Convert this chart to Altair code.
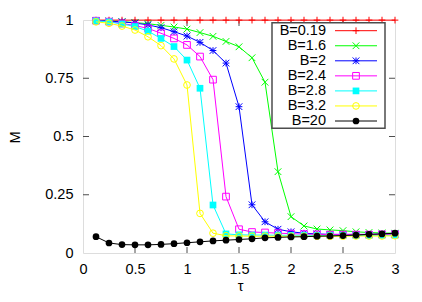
import altair as alt
import pandas as pd

tau = [0.125, 0.25, 0.375, 0.5, 0.625, 0.75, 0.875, 1.0, 1.125, 1.25, 1.375, 1.5,
       1.625, 1.75, 1.875, 2.0, 2.125, 2.25, 2.375, 2.5, 2.625, 2.75, 2.875, 3.0]

m_b019 = [0.9995, 0.9995, 0.9995, 0.9995, 0.9995, 0.9995, 0.9995, 0.9995, 0.9995, 0.9995, 0.9995, 0.9995,
          0.9995, 0.9995, 0.9995, 0.9995, 0.9995, 0.9995, 0.9995, 0.9995, 0.9995, 0.9995, 0.9995, 0.9995]
m_b16 = [0.998, 0.996, 0.993, 0.989, 0.984, 0.977, 0.970, 0.961, 0.946, 0.930, 0.908, 0.885,
         0.838, 0.733, 0.349, 0.156, 0.116, 0.103, 0.099, 0.096, 0.091, 0.088, 0.086, 0.085]
m_b2 = [0.998, 0.995, 0.992, 0.987, 0.979, 0.967, 0.950, 0.931, 0.904, 0.869, 0.815, 0.628,
        0.207, 0.134, 0.102, 0.091, 0.085, 0.082, 0.080, 0.080, 0.080, 0.080, 0.081, 0.082]
m_b24 = [0.997, 0.993, 0.985, 0.976, 0.964, 0.943, 0.921, 0.893, 0.843, 0.744, 0.242, 0.102,
         0.090, 0.088, 0.085, 0.083, 0.081, 0.080, 0.079, 0.079, 0.079, 0.079, 0.080, 0.080]
m_b28 = [0.996, 0.992, 0.983, 0.972, 0.952, 0.921, 0.886, 0.828, 0.707, 0.206, 0.082, 0.078,
         0.077, 0.077, 0.076, 0.076, 0.076, 0.075, 0.075, 0.075, 0.075, 0.075, 0.076, 0.076]
m_b32 = [0.992, 0.986, 0.974, 0.957, 0.928, 0.890, 0.833, 0.721, 0.170, 0.085, 0.074, 0.073,
         0.072, 0.072, 0.072, 0.072, 0.072, 0.072, 0.072, 0.072, 0.073, 0.073, 0.073, 0.074]
m_b20 = [0.070, 0.043, 0.036, 0.035, 0.035, 0.037, 0.040, 0.044, 0.048, 0.052, 0.055, 0.058,
         0.061, 0.065, 0.067, 0.069, 0.070, 0.072, 0.073, 0.075, 0.077, 0.080, 0.082, 0.085]

labels = ["B=0.19", "B=1.6", "B=2", "B=2.4", "B=2.8", "B=3.2", "B=20"]
series = [m_b019, m_b16, m_b2, m_b24, m_b28, m_b32, m_b20]
colors = ["#ff0000", "#00ff00", "#0000ff", "#ff00ff", "#00ffff", "#ffff00", "#000000"]

x_ticks = [0, 0.5, 1, 1.5, 2, 2.5, 3]
y_ticks = [0, 0.25, 0.5, 0.75, 1]

PLUS = "M-1,0L1,0M0,-1L0,1"
CROSS = "M-1,-1L1,1M-1,1L1,-1"
STAR = "M-1,0L1,0M0,-1L0,1M-1,-1L1,1M-1,1L1,-1"
shapes = [(PLUS, False), (CROSS, False), (STAR, False), ("square", False),
          ("square", True), ("circle", False), ("circle", True)]

W, H = 312, 233
FONT = "Liberation Sans"
FS = 14.5
FRAME = "#4d4d4d"

xs = alt.Scale(domain=[0, 3], nice=False)
ys = alt.Scale(domain=[0, 1], nice=False)

x_axis = alt.Axis(values=x_ticks, labelExpr="'' + datum.value", tickSize=0, domain=False,
                  grid=False, labelPadding=9.5, labelFlush=False, labelFont=FONT, labelFontSize=FS,
                  labelColor="#000", title="τ", titleFont=FONT, titleFontSize=FS,
                  titleFontWeight="normal", titleColor="#000", titleX=157, titleY=37,
                  titleBaseline="alphabetic", titleAlign="center")
y_axis = alt.Axis(values=y_ticks, labelExpr="'' + datum.value", tickSize=0, domain=False,
                  grid=False, labelPadding=10, labelFlush=False, labelFont=FONT, labelFontSize=FS,
                  labelColor="#000", title="M", titleFont=FONT, titleFontSize=FS,
                  titleFontWeight="normal", titleColor="#000", titleX=-68, titleY=117,
                  titleAngle=-90, titleBaseline="middle", titleAlign="center")

layers = []

# tick marks (inward, mirrored)
xt = pd.DataFrame({"tau": x_ticks[1:-1]})
yt = pd.DataFrame({"M": y_ticks[1:-1]})
layers.append(alt.Chart(xt).mark_rule(color=FRAME, strokeWidth=1).encode(
    x=alt.X("tau:Q", scale=xs, axis=x_axis), y=alt.value(H), y2=alt.value(H - 6)))
layers.append(alt.Chart(xt).mark_rule(color=FRAME, strokeWidth=1).encode(
    x=alt.X("tau:Q", scale=xs), y=alt.value(0), y2=alt.value(6)))
layers.append(alt.Chart(yt).mark_rule(color=FRAME, strokeWidth=1).encode(
    y=alt.Y("M:Q", scale=ys, axis=y_axis), x=alt.value(0), x2=alt.value(6)))
layers.append(alt.Chart(yt).mark_rule(color=FRAME, strokeWidth=1).encode(
    y=alt.Y("M:Q", scale=ys), x=alt.value(W), x2=alt.value(W - 6)))

for lab, vals, col, (shp, fil) in zip(labels, series, colors, shapes):
    df = pd.DataFrame({"tau": tau, "M": vals})
    base = alt.Chart(df).encode(x=alt.X("tau:Q", scale=xs), y=alt.Y("M:Q", scale=ys))
    layers.append(base.mark_line(color=col, strokeWidth=1, clip=False))
    layers.append(base.mark_point(shape=shp, filled=fil, color=col, size=45,
                                  strokeWidth=1, opacity=1, clip=False))

# legend box
one = pd.DataFrame({"k": [0]})
layers.append(alt.Chart(one).mark_rect(fill="white", stroke=FRAME, strokeWidth=1.5).encode(
    x=alt.value(189), x2=alt.value(302), y=alt.value(2.7), y2=alt.value(108.3)))

for i, (lab, col, (shp, fil)) in enumerate(zip(labels, colors, shapes)):
    ypix = 10.7 + 15.05 * i
    ld = pd.DataFrame({"label": [lab]})
    layers.append(alt.Chart(ld).mark_text(align="right", baseline="middle", font=FONT,
                                          fontSize=FS, color="#000").encode(
        text="label:N", x=alt.value(243), y=alt.value(ypix)))
    layers.append(alt.Chart(ld).mark_rule(color=col, strokeWidth=1).encode(
        x=alt.value(252), x2=alt.value(294), y=alt.value(ypix)))
    layers.append(alt.Chart(ld).mark_point(shape=shp, filled=fil, color=col, size=45,
                                           strokeWidth=1, opacity=1).encode(
        x=alt.value(273), y=alt.value(ypix)))

chart = alt.layer(*layers).properties(
    width=W, height=H, autosize=alt.AutoSizeParams(type="none"),
    padding={"left": 75, "top": 12, "right": 19, "bottom": 41},
).configure_view(stroke=FRAME, strokeWidth=1.5).configure(background="white")

chart.save("out.html", embed_options={"renderer": "svg", "actions": False})
